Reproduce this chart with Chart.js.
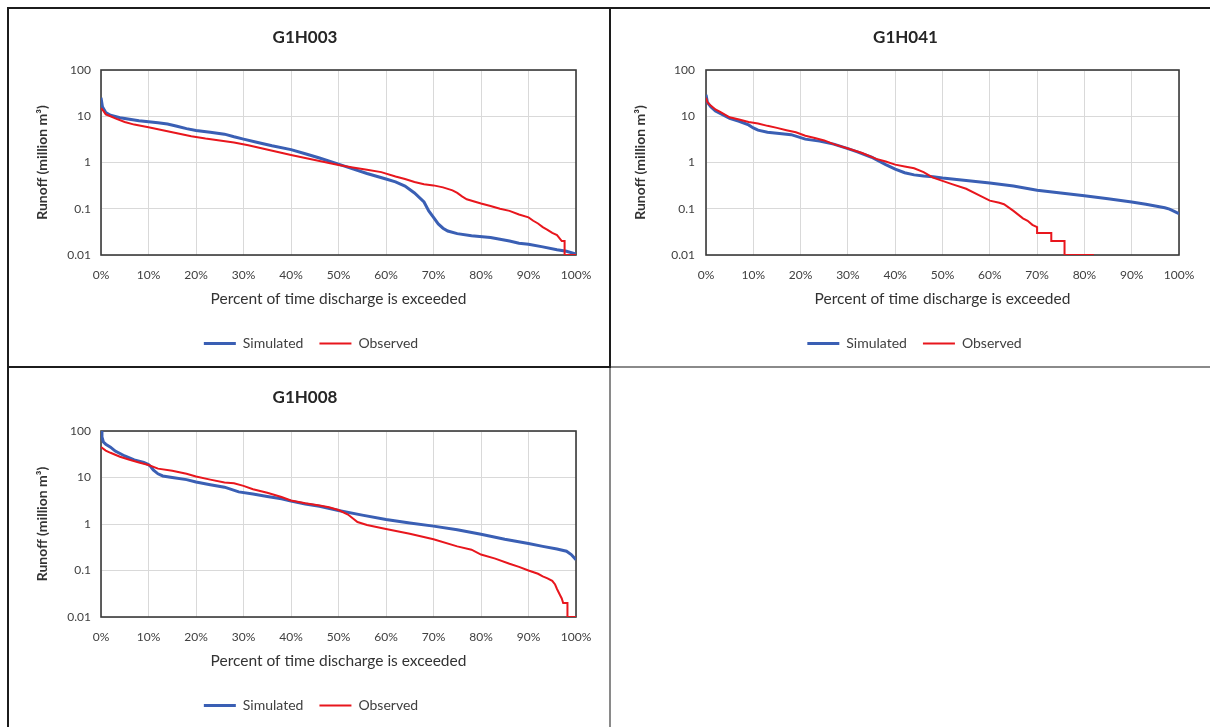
<!DOCTYPE html>
<html>
<head>
<meta charset="utf-8">
<script src="https://cdn.jsdelivr.net/npm/chart.js@4"></script>
<style>
  html, body { margin: 0; padding: 0; background: #fff; }
  body { width: 1210px; height: 727px; position: relative; overflow: hidden; }
  .cell { position: absolute; }
  .line { position: absolute; }
</style>
</head>
<body>
<div class="line" style="left:7px;top:7px;width:1203px;height:2px;background:#1c1c1c"></div>
<div class="line" style="left:7px;top:7px;width:2px;height:720px;background:#1c1c1c"></div>
<div class="line" style="left:609px;top:7px;width:2px;height:361px;background:#1c1c1c"></div>
<div class="line" style="left:609px;top:368px;width:2px;height:359px;background:#8a8a8a"></div>
<div class="line" style="left:7px;top:366px;width:604px;height:2px;background:#1c1c1c"></div>
<div class="line" style="left:611px;top:366px;width:599px;height:2px;background:#8a8a8a"></div>

<div class="cell" style="left:9px;top:9px"><canvas id="c1" width="600" height="357"></canvas></div>
<div class="cell" style="left:612px;top:9px"><canvas id="c2" width="598" height="357"></canvas></div>
<div class="cell" style="left:9px;top:369px"><canvas id="c3" width="600" height="358"></canvas></div>

<script>
// G1H003
const g1h003SimPct = [0, 0.3, 1, 2, 4, 6, 8, 10, 12, 14, 16, 18, 20, 23, 26, 28, 30, 33, 36, 40, 43, 46, 50, 53, 56, 60, 62, 64, 66, 68, 69, 70, 71, 72, 73, 75, 78, 82, 84, 86, 88, 90, 93, 96, 98, 100];
const g1h003Sim = [25, 16, 12, 10.5, 9.3, 8.6, 8, 7.6, 7.2, 6.8, 6.1, 5.4, 4.9, 4.5, 4.1, 3.6, 3.2, 2.7, 2.3, 1.9, 1.55, 1.25, 0.92, 0.73, 0.58, 0.44, 0.38, 0.31, 0.22, 0.14, 0.09, 0.065, 0.047, 0.038, 0.033, 0.029, 0.026, 0.024, 0.022, 0.02, 0.018, 0.017, 0.015, 0.013, 0.012, 0.0105];
const g1h003ObsPct = [0, 0.5, 1, 2, 3, 5, 7, 10, 13, 16, 19, 22, 25, 28, 31, 34, 37, 40, 43, 46, 50, 53, 56, 59, 62, 64, 66, 68, 70, 72, 74, 75, 76, 77, 80, 82, 84, 86, 88, 90, 91, 92, 93, 94, 95, 96, 97, 97.6, 97.6, 100];
const g1h003Obs = [15, 13, 11, 10, 9, 7.5, 6.6, 5.8, 5.0, 4.3, 3.7, 3.3, 3.0, 2.7, 2.35, 2.0, 1.7, 1.45, 1.25, 1.08, 0.88, 0.78, 0.7, 0.62, 0.5, 0.44, 0.38, 0.34, 0.32, 0.29, 0.25, 0.22, 0.185, 0.16, 0.13, 0.115, 0.1, 0.09, 0.075, 0.065, 0.055, 0.048, 0.04, 0.035, 0.03, 0.027, 0.02, 0.02, 0.01, 0.01];

// G1H041
const g1h041SimPct = [0, 0.3, 1, 2, 3, 5, 7, 9, 10, 11, 13, 15, 18, 21, 24, 27, 30, 32, 35, 38, 40, 42, 44, 46, 48, 50, 55, 60, 65, 70, 75, 80, 85, 90, 93, 95, 97, 98, 99, 100];
const g1h041Sim = [29, 20, 16, 13, 11.5, 9, 7.8, 6.5, 5.6, 5, 4.5, 4.3, 4.0, 3.2, 2.9, 2.5, 2.0, 1.7, 1.3, 0.9, 0.72, 0.6, 0.54, 0.51, 0.49, 0.46, 0.41, 0.36, 0.31, 0.25, 0.22, 0.19, 0.165, 0.14, 0.125, 0.115, 0.105, 0.098, 0.088, 0.078];
const g1h041ObsPct = [0, 0.3, 1, 2, 3, 5, 7, 9, 11, 13, 15, 17, 19, 21, 23, 25, 27, 30, 33, 36, 38, 40, 42, 44, 46, 48, 50, 52, 55, 58, 60, 62, 63, 65, 67, 68, 69, 70, 70, 73, 73, 75.8, 75.8, 82];
const g1h041Obs = [25, 20, 17, 14, 12.5, 9.5, 8.5, 7.5, 7, 6.2, 5.6, 5, 4.5, 3.8, 3.4, 3.0, 2.5, 2.0, 1.6, 1.2, 1.05, 0.9, 0.82, 0.75, 0.62, 0.47, 0.4, 0.34, 0.27, 0.19, 0.15, 0.135, 0.125, 0.09, 0.062, 0.055, 0.045, 0.04, 0.03, 0.03, 0.02, 0.02, 0.01, 0.01];

// G1H008
const g1h008SimPct = [0, 0.2, 0.5, 1, 2, 3, 5, 7, 9, 10, 10.5, 11, 12, 13, 15, 18, 20, 23, 26, 29, 32, 35, 38, 40, 43, 46, 50, 55, 60, 65, 70, 75, 80, 85, 90, 93, 96, 98, 99, 100];
const g1h008Sim = [100, 75, 58, 52, 45, 37, 29, 24, 21, 19, 17, 14.5, 12, 10.8, 10, 9, 8, 7, 6.2, 4.9, 4.4, 3.9, 3.5, 3.1, 2.7, 2.4, 1.95, 1.55, 1.25, 1.05, 0.9, 0.75, 0.6, 0.47, 0.38, 0.33, 0.29, 0.26, 0.22, 0.17];
const g1h008ObsPct = [0, 1, 2, 4, 6, 8, 10, 12, 15, 18, 20, 23, 26, 28, 30, 32, 35, 38, 40, 43, 46, 48, 50, 52, 54, 56, 60, 65, 70, 75, 78, 80, 83, 86, 88, 90, 92, 93, 94, 95, 95.6, 96, 96.6, 97, 97.3, 98.2, 98.2, 100];
const g1h008Obs = [45, 38, 34, 28, 24, 21, 18.5, 15.5, 14, 12, 10.5, 9, 7.8, 7.5, 6.6, 5.6, 4.7, 3.8, 3.2, 2.8, 2.5, 2.3, 2.0, 1.6, 1.1, 0.95, 0.78, 0.62, 0.47, 0.33, 0.28, 0.22, 0.18, 0.14, 0.12, 0.1, 0.085, 0.075, 0.068, 0.06, 0.05, 0.04, 0.03, 0.025, 0.02, 0.02, 0.01, 0.01];

const yTicks = [0.01, 0.1, 1, 10, 100];
const xTicksStep = 10;

const simColor = '#3a5fb4';
const obsColor = '#e8161d';

Chart.defaults.font.family = 'Lato, "Open Sans", sans-serif';
Chart.defaults.color = '#404040';

const pts = (pct, vals) => pct.map((p, i) => ({ x: p, y: vals[i] }));

const frame = {
  id: 'frame',
  beforeDatasetsDraw(c) {
    const a = c.chartArea, ctx = c.ctx;
    ctx.save();
    ctx.strokeStyle = '#3a3a3a';
    ctx.lineWidth = 1.6;
    ctx.strokeRect(a.left, a.top, a.right - a.left, a.bottom - a.top);
    ctx.restore();
  }
};

const shiftLegend = {
  id: 'shiftLegend',
  afterLayout(c, args, opts) {
    c.legend.left += opts.dx || 0;
    c.legend.right += opts.dx || 0;
  }
};

function makeChart(id, title, sim, obs, g) {
  new Chart(document.getElementById(id), {
    type: 'line',
    data: {
      datasets: [
        { label: 'Simulated', data: sim, borderColor: simColor, backgroundColor: simColor, borderWidth: 3, pointRadius: 0, tension: 0, order: 1 },
        { label: 'Observed', data: obs, borderColor: obsColor, backgroundColor: obsColor, borderWidth: 2, pointRadius: 0, tension: 0, order: 0 }
      ]
    },
    options: {
      responsive: false,
      animation: false,
      events: [],
      layout: { padding: { left: g.padL, right: g.padR, top: 0, bottom: g.padB } },
      plugins: {
        title: {
          display: true, text: title, color: '#262626',
          font: { size: 17, weight: 'bold' },
          padding: { top: 18.8, bottom: g.titleGap }
        },
        legend: {
          position: 'bottom',
          labels: {
            boxWidth: 32, boxHeight: 0, padding: 16,
            font: { size: 14 }, color: '#404040',
            generateLabels: c => c.data.datasets.map((d, i) => ({
              text: d.label, fillStyle: d.borderColor, strokeStyle: d.borderColor,
              lineWidth: d.borderWidth, datasetIndex: i, hidden: false, fontColor: '#404040'
            }))
          }
        },
        shiftLegend: { dx: g.legendDx },
        tooltip: { enabled: false }
      },
      scales: {
        x: {
          type: 'linear', min: 0, max: 100,
          afterFit: s => { s.height = 65.5; },
          grid: { color: '#d9d9d9', drawTicks: false },
          border: { display: false },
          ticks: { stepSize: xTicksStep, padding: 13, autoSkip: false, maxRotation: 0, color: '#404040', font: { size: 12 }, callback: v => v + '%' },
          title: { display: true, text: 'Percent of time discharge is exceeded', color: '#333333', font: { size: 15.5 }, padding: { top: 0, bottom: 12.2 } }
        },
        y: {
          type: 'logarithmic', min: 0.01, max: 100,
          afterFit: s => { s.width = g.yW; },
          afterBuildTicks: s => { s.ticks = yTicks.map(v => ({ value: v })); },
          grid: { color: '#d9d9d9', drawTicks: false },
          border: { display: false },
          ticks: { padding: g.yPad, color: '#404040', font: { size: 12 }, callback: v => String(v) },
          title: { display: true, text: 'Runoff (million m³)', color: '#333333', font: { size: 14, weight: 'bold' }, padding: { top: 0, bottom: 0 } }
        }
      }
    },
    plugins: [frame, shiftLegend]
  });
}

makeChart('c1', 'G1H003', pts(g1h003SimPct, g1h003Sim), pts(g1h003ObsPct, g1h003Obs),
  { padL: 25, padR: 33, padB: 5.5, yW: 67, yPad: 10, titleGap: 21.8, legendDx: 6 });
makeChart('c2', 'G1H041', pts(g1h041SimPct, g1h041Sim), pts(g1h041ObsPct, g1h041Obs),
  { padL: 20, padR: 31, padB: 5.5, yW: 74, yPad: 11, titleGap: 21.8, legendDx: 9 });
makeChart('c3', 'G1H008', pts(g1h008SimPct, g1h008Sim), pts(g1h008ObsPct, g1h008Obs),
  { padL: 25, padR: 33, padB: 4.5, yW: 67, yPad: 10, titleGap: 22.8, legendDx: 6 });
</script>
</body>
</html>
